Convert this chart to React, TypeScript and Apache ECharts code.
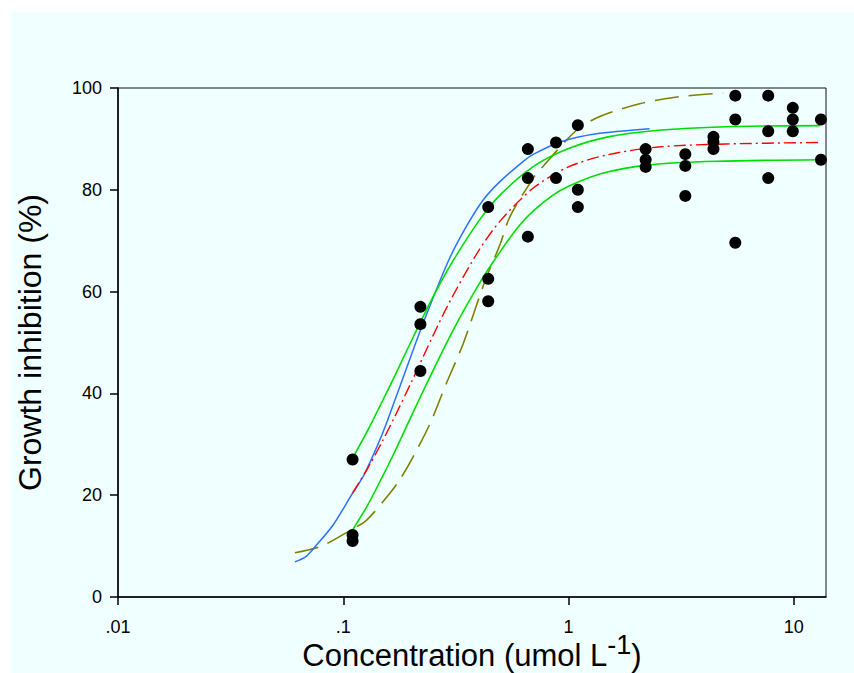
import React, { useEffect, useRef } from "react";
import * as echarts from "echarts";

// Observed data (concentration in umol/L, growth inhibition in %)
const pointConc = [
  0.11, 0.11, 0.11,
  0.22, 0.22, 0.22,
  0.44, 0.44, 0.44,
  0.66, 0.66, 0.66,
  0.88, 0.88,
  1.1, 1.1, 1.1,
  2.2, 2.2, 2.2,
  3.3, 3.3, 3.3,
  4.4, 4.4, 4.4,
  5.5, 5.5, 5.5,
  7.7, 7.7, 7.7,
  9.9, 9.9, 9.9,
  13.2, 13.2,
];
const pointInhib = [
  27.0, 12.2, 11.0,
  57.0, 53.6, 44.4,
  76.6, 62.5, 58.1,
  88.0, 82.3, 70.8,
  89.3, 82.3,
  92.7, 80.0, 76.6,
  88.0, 85.9, 84.5,
  87.0, 84.7, 78.8,
  90.4, 89.4, 88.0,
  98.5, 93.8, 69.6,
  98.5, 91.5, 82.3,
  96.1, 93.8, 91.5,
  93.8, 85.9,
];

// Blue solid curve
const blueX = [0.061, 0.068, 0.074, 0.09, 0.11, 0.123, 0.141, 0.156, 0.212, 0.251, 0.297, 0.353, 0.418, 0.496, 0.63, 0.70, 0.92, 1.33, 2.29];
const blueY = [6.9, 7.9, 9.6, 14.1, 20.4, 23.8, 29.5, 34.3, 50.5, 58.9, 66.6, 72.9, 78.0, 81.6, 85.6, 87.0, 89.4, 91.0, 92.0];

// Upper green curve
const greenUpX = [0.11, 0.13, 0.15, 0.17, 0.2, 0.25, 0.3, 0.4, 0.5, 0.7, 1.0, 1.5, 2.5, 5, 13.06];
const greenUpY = [27.3, 33.2, 38.7, 43.6, 50.2, 58.9, 65.3, 73.9, 79.1, 84.6, 88.1, 90.4, 91.7, 92.4, 92.6];

// Red dash-dot curve
const redX = [0.11, 0.13, 0.15, 0.17, 0.2, 0.25, 0.3, 0.4, 0.5, 0.7, 1.0, 1.5, 2.5, 5, 13.06];
const redY = [20.4, 25.7, 30.8, 35.6, 42.1, 51.3, 58.4, 68.1, 74.0, 80.4, 84.5, 86.9, 88.4, 89.0, 89.3];

// Lower green curve
const greenLowX = [0.11, 0.127, 0.146, 0.167, 0.198, 0.234, 0.308, 0.411, 0.5, 0.6, 0.7, 0.85, 1.0, 1.4, 2.29, 4.54, 13.06];
const greenLowY = [13.2, 17.7, 22.8, 28.0, 35.0, 41.8, 52.5, 62.3, 68.0, 72.8, 75.9, 78.9, 80.7, 83.2, 84.9, 85.6, 85.9];

// Olive dashed curve
const oliveX = [0.061, 0.08, 0.1085, 0.127, 0.161, 0.178, 0.2045, 0.243, 0.287, 0.341, 0.425, 0.496, 0.549, 0.697, 0.746, 1.085, 1.377, 2.07, 3.12, 4.86];
const oliveY = [8.7, 10.0, 13.2, 15.1, 20.4, 23.0, 27.6, 34.1, 42.0, 49.8, 62.0, 69.2, 74.7, 82.3, 83.9, 91.7, 94.4, 96.9, 98.3, 99.0];

const xTickValues = [0.01, 0.1, 1, 10];
const xTickLabels = [".01", ".1", "1", "10"];
const yTicks = [0, 20, 40, 60, 80, 100];

const zip = (xs: number[], ys: number[]) => xs.map((x, i) => [x, ys[i]]);

const FONT = "Arial, 'Liberation Sans', sans-serif";

export default function App() {
  const ref = useRef<HTMLDivElement>(null);
  useEffect(() => {
    document.body.style.margin = "0";
    if (!ref.current) return;
    const chart = echarts.init(ref.current, null, { renderer: "svg" });
    const lineBase = { type: "line" as const, showSymbol: false, symbol: "none", z: 2 };
    chart.setOption({
      animation: false,
      backgroundColor: "transparent",
      grid: {
        left: 118,
        right: 28,
        top: 88,
        bottom: 76,
        show: true,
        borderColor: "#111",
        borderWidth: 1,
        backgroundColor: "transparent",
        containLabel: false,
        outerBoundsMode: "none",
      },
      xAxis: {
        type: "log",
        logBase: 10,
        min: 0.01,
        max: 13.9,
        name: "{a|Concentration (umol L}{b|-1}{a|)}",
        nameLocation: "middle",
        nameGap: 40,
        nameMoveOverlap: false,
        nameTextStyle: {
          rich: {
            a: { fontSize: 31, fontFamily: FONT, color: "#000", verticalAlign: "bottom", lineHeight: 34 },
            b: { fontSize: 27, fontFamily: FONT, color: "#000", verticalAlign: "bottom", lineHeight: 22, padding: [0, 0, 13, 0] },
          },
        },
        axisLine: { show: true, onZero: false, lineStyle: { color: "#000", width: 1.5 } },
        axisTick: { show: true, inside: false, length: 8, lineStyle: { color: "#000", width: 1.5 }, customValues: xTickValues },
        axisLabel: {
          show: true,
          fontSize: 18,
          fontFamily: FONT,
          color: "#000",
          margin: 21,
          customValues: xTickValues,
          formatter: (v: number) => {
            let best = 0;
            for (let i = 0; i < xTickValues.length; i++) {
              if (Math.abs(Math.log10(v) - Math.log10(xTickValues[i])) < Math.abs(Math.log10(v) - Math.log10(xTickValues[best]))) best = i;
            }
            return xTickLabels[best];
          },
        },
        minorTick: { show: false },
        splitLine: { show: false },
      },
      yAxis: {
        type: "value",
        min: 0,
        max: 100,
        interval: 20,
        name: "Growth inhibition (%)",
        nameLocation: "middle",
        nameGap: 72,
        nameMoveOverlap: false,
        nameTextStyle: { fontSize: 32, fontFamily: FONT, color: "#000" },
        axisLine: { show: true, lineStyle: { color: "#000", width: 1.5 } },
        axisTick: { show: true, inside: false, length: 8, lineStyle: { color: "#000", width: 1.5 } },
        axisLabel: {
          fontSize: 18,
          fontFamily: FONT,
          color: "#000",
          margin: 16,
          formatter: (v: number) => (yTicks.includes(v) ? String(v) : ""),
        },
        splitLine: { show: false },
      },
      series: [
        {
          ...lineBase,
          data: zip(oliveX, oliveY),
          smooth: 0.3,
          lineStyle: { color: "#808000", width: 1.6, type: [24, 10] },
        },
        {
          ...lineBase,
          data: zip(blueX, blueY),
          smooth: 0.25,
          lineStyle: { color: "#2a72ff", width: 1.5, type: "solid" },
        },
        {
          ...lineBase,
          data: zip(greenUpX, greenUpY),
          smooth: 0.3,
          lineStyle: { color: "#00dd00", width: 1.6, type: "solid" },
        },
        {
          ...lineBase,
          data: zip(greenLowX, greenLowY),
          smooth: 0.3,
          lineStyle: { color: "#00dd00", width: 1.6, type: "solid" },
        },
        {
          ...lineBase,
          data: zip(redX, redY),
          smooth: 0.3,
          lineStyle: { color: "#ff0000", width: 1.4, type: [12, 4, 2, 4] },
        },
        {
          type: "scatter",
          data: zip(pointConc, pointInhib),
          symbol: "circle",
          symbolSize: 12,
          itemStyle: { color: "#000", opacity: 1 },
          z: 5,
        },
      ],
    });
    return () => chart.dispose();
  }, []);
  return (
    <div style={{ position: "relative", width: 854, height: 673, background: "#fff" }}>
      <div style={{ position: "absolute", left: 11, top: 12, right: 0, bottom: 0, background: "#F0FFFF" }} />
      <div ref={ref} style={{ position: "absolute", left: 0, top: 0, width: 854, height: 673 }} />
    </div>
  );
}
